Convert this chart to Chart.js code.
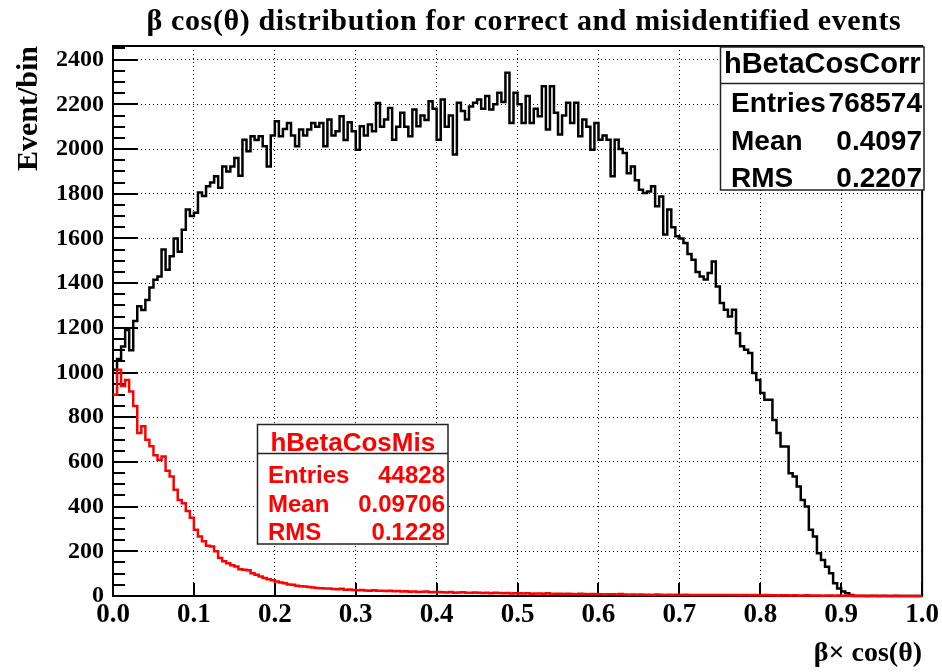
<!DOCTYPE html>
<html><head><meta charset="utf-8">
<script src="https://cdn.jsdelivr.net/npm/chart.js@4.4.0/dist/chart.umd.min.js"></script>
<style>html,body{margin:0;padding:0;background:#fff;}#wrap{width:942px;height:672px;}</style>
</head><body><div id="wrap"><canvas id="c" width="942" height="672"></canvas></div>
<script>
// ---- data ----
const chartTitle = "\u03B2 cos(\u03B8) distribution for correct and misidentified events";
const xTitle = "\u03B2\u00D7 cos(\u03B8)";
const yTitle = "Event/bin";
const xMin = 0, xMax = 1, binWidth = 0.005;
const yMax = 2461;
const xTicks = [0,0.1,0.2,0.3,0.4,0.5,0.6,0.7,0.8,0.9,1.0];
const yTicks = [0,200,400,600,800,1000,1200,1400,1600,1800,2000,2200,2400];
const yMinorTicks = [50,100,150,250,300,350,450,500,550,650,700,750,850,900,950,1050,1100,1150,1250,1300,1350,1450,1500,1550,1650,1700,1750,1850,1900,1950,2050,2100,2150,2250,2300,2350,2450];

const corrCounts = [
1012,1060,1116,1190,1100,1230,1296,1280,1325,1380,
1415,1430,1550,1460,1520,1600,1540,1639,1729,1700,
1715,1805,1790,1833,1850,1878,1827,1922,1900,1922,
1960,1880,2042,1990,2057,2040,2057,2012,1922,2060,
2124,2057,2090,2117,2060,2012,2087,2060,2087,2117,
2100,2117,2012,2132,2060,2080,2147,2040,2120,2080,
1997,2102,2060,2110,2080,2206,2100,2132,2184,2042,
2100,2162,2100,2057,2177,2102,2150,2130,2214,2180,
2042,2222,2100,2150,1975,2207,2170,2132,2190,2207,
2222,2180,2237,2177,2200,2252,2210,2341,2117,2252,
2200,2117,2237,2117,2180,2147,2281,2087,2281,2162,
2065,2150,2207,2117,2207,2057,2132,2100,1997,2117,
2042,2060,2042,1878,2042,2000,1982,1892,1922,1860,
1818,1803,1810,1833,1744,1788,1617,1729,1650,1610,
1600,1580,1530,1505,1450,1430,1416,1445,1497,1385,
1311,1281,1251,1281,1176,1117,1102,1087,998,967,
908,878,878,788,729,669,669,549,535,490,
430,400,296,266,191,161,131,102,57,34,
20,12,5,0,0,0,0,0,0,0,
0,0,0,0,0,0,0,0,0,0];

const misCounts = [
900,1012,940,967,915,850,729,759,699,670,
630,609,624,560,535,475,430,415,380,350,
296,266,245,225,221,200,170,155,147,138,
132,120,117,115,102,95,87,80,75,70,
65,60,57,52,50,46,44,42,40,38,
36,35,33,34,31,30,32,28,29,27,
26,27,25,24,26,23,24,22,23,21,
22,20,21,19,20,18,19,20,17,18,
18,17,16,18,15,16,17,14,15,16,
14,13,15,12,14,13,12,13,11,12,
12,11,12,10,11,11,10,12,9,10,
10,9,10,9,8,10,9,8,9,8,
8,7,8,8,7,9,7,6,7,6,
7,6,6,5,7,6,5,6,5,6,
5,6,5,4,5,5,4,5,4,5,
4,5,4,4,3,4,4,3,4,3,
3,4,3,3,2,3,3,2,3,2,
2,3,2,2,2,1,2,2,1,2,
1,1,2,1,1,1,0,1,1,0,
1,0,0,1,0,0,0,0,0,0];

const statLabels = ["Entries","Mean","RMS"];
const corrName = "hBetaCosCorr";
const corrStats = ["768574","0.4097","0.2207"];
const misName = "hBetaCosMis";
const misStats = ["44828","0.09706","0.1228"];

// ---- build histogram step points ----
function histPoints(counts){
  const pts = counts.map((v,i)=>({x: xMin + i*binWidth, y: v}));
  pts.push({x: xMax, y: counts[counts.length-1]});
  return pts;
}

const serif = "'Liberation Serif','Times New Roman',serif";
const sans = "'Liberation Sans',Arial,sans-serif";

const decorPlugin = {
  id: 'decor',
  beforeDatasetsDraw(chart){
    const ctx = chart.ctx, a = chart.chartArea, xs = chart.scales.x, ys = chart.scales.y;
    ctx.save();
    ctx.strokeStyle = '#000';
    ctx.lineWidth = 2;
    ctx.beginPath();
    yTicks.forEach(v=>{ const py = Math.round(ys.getPixelForValue(v)); ctx.moveTo(a.left, py); ctx.lineTo(a.left+25, py); });
    yMinorTicks.forEach(v=>{ const py = Math.round(ys.getPixelForValue(v)); ctx.moveTo(a.left, py); ctx.lineTo(a.left+12, py); });
    xTicks.forEach(v=>{ const px = Math.round(xs.getPixelForValue(v)); ctx.moveTo(px, a.bottom); ctx.lineTo(px, a.bottom-13); });
    ctx.stroke();
    ctx.lineWidth = 2;
    ctx.strokeRect(a.left, a.top, a.right-a.left, a.bottom-a.top);
    ctx.restore();
  },
  afterDraw(chart){
    const ctx = chart.ctx;
    ctx.save();
    // title
    ctx.fillStyle = '#000';
    ctx.font = "bold 30px " + serif;
    ctx.textAlign = 'center';
    ctx.textBaseline = 'alphabetic';
    try { ctx.letterSpacing = '0.6px'; } catch(e) {}
    ctx.fillText(chartTitle, 524, 30);
    try { ctx.letterSpacing = '0px'; } catch(e) {}
    // stat boxes
    drawBox(ctx, {x:720.5, y:47, w:203.5, h:143, div:83.5, color:'#000', titleSize:29, rowSize:28,
      titleBase:73, rowBase:[112,150,187], labelX:731, valueX:922, name:corrName, vals:corrStats});
    drawBox(ctx, {x:257.5, y:424.5, w:190.5, h:119.5, div:453.5, color:'#ff0000', titleSize:26, rowSize:24,
      titleBase:451, rowBase:[483,512,540], labelX:268, valueX:445, name:misName, vals:misStats});
    ctx.restore();
  }
};

function drawBox(ctx, b){
  ctx.fillStyle = '#fff';
  ctx.fillRect(b.x, b.y, b.w, b.h);
  ctx.strokeStyle = '#222';
  ctx.lineWidth = 1.5;
  ctx.strokeRect(b.x, b.y, b.w, b.h);
  ctx.beginPath(); ctx.moveTo(b.x, b.div); ctx.lineTo(b.x+b.w, b.div); ctx.stroke();
  ctx.fillStyle = b.color;
  ctx.textBaseline = 'alphabetic';
  ctx.font = "bold " + b.titleSize + "px " + sans;
  ctx.textAlign = 'center';
  ctx.fillText(b.name, b.x + b.w/2, b.titleBase);
  ctx.font = "bold " + b.rowSize + "px " + sans;
  statLabels.forEach((lab,i)=>{
    ctx.textAlign = 'left'; ctx.fillText(lab, b.labelX, b.rowBase[i]);
    ctx.textAlign = 'right'; ctx.fillText(b.vals[i], b.valueX, b.rowBase[i]);
  });
}

new Chart(document.getElementById('c'), {
  type: 'line',
  data: {
    datasets: [
      {label: misName, data: histPoints(misCounts), borderColor: '#ff0000', borderWidth: 2.5, stepped: 'before',
       pointRadius: 0, fill: false, order: 0, clip: 4},
      {label: corrName, data: histPoints(corrCounts), borderColor: '#000000', borderWidth: 2.5, stepped: 'before',
       pointRadius: 0, fill: false, order: 1, clip: 4}
    ]
  },
  options: {
    responsive: false,
    devicePixelRatio: 1,
    animation: false,
    layout: {padding: {left: 0, right: 18, top: 46, bottom: 0}},
    plugins: {legend: {display: false}, tooltip: {enabled: false}, title: {display: false}},
    scales: {
      x: {
        type: 'linear', min: xMin, max: xMax,
        afterFit(s){ s.height = 76; },
        afterBuildTicks(s){ s.ticks = xTicks.map(v=>({value: v})); },
        ticks: {autoSkip: false, maxRotation: 0, padding: 3, color: '#000',
          font: {family: serif, weight: 'bold', size: 27},
          callback: v => Number(v).toFixed(1)},
        grid: {color: '#000', lineWidth: 1, drawTicks: false},
        border: {display: false, dash: [1,3]},
        title: {display: true, text: xTitle, align: 'end', color: '#000',
          font: {family: serif, weight: 'bold', size: 28}, padding: {top: 0, bottom: 1}}
      },
      y: {
        type: 'linear', min: 0, max: yMax,
        afterFit(s){ s.width = 113; },
        afterBuildTicks(s){ s.ticks = yTicks.map(v=>({value: v})); },
        ticks: {autoSkip: false, padding: 9, color: '#000',
          font: {family: serif, weight: 'bold', size: 24},
          callback: v => String(v)},
        grid: {color: '#000', lineWidth: 1, drawTicks: false},
        border: {display: false, dash: [1,3]},
        title: {display: true, text: yTitle, align: 'end', color: '#000',
          font: {family: serif, weight: 'bold', size: 30}, padding: {top: 11, bottom: 0}}
      }
    }
  },
  plugins: [decorPlugin]
});
</script></body></html>
